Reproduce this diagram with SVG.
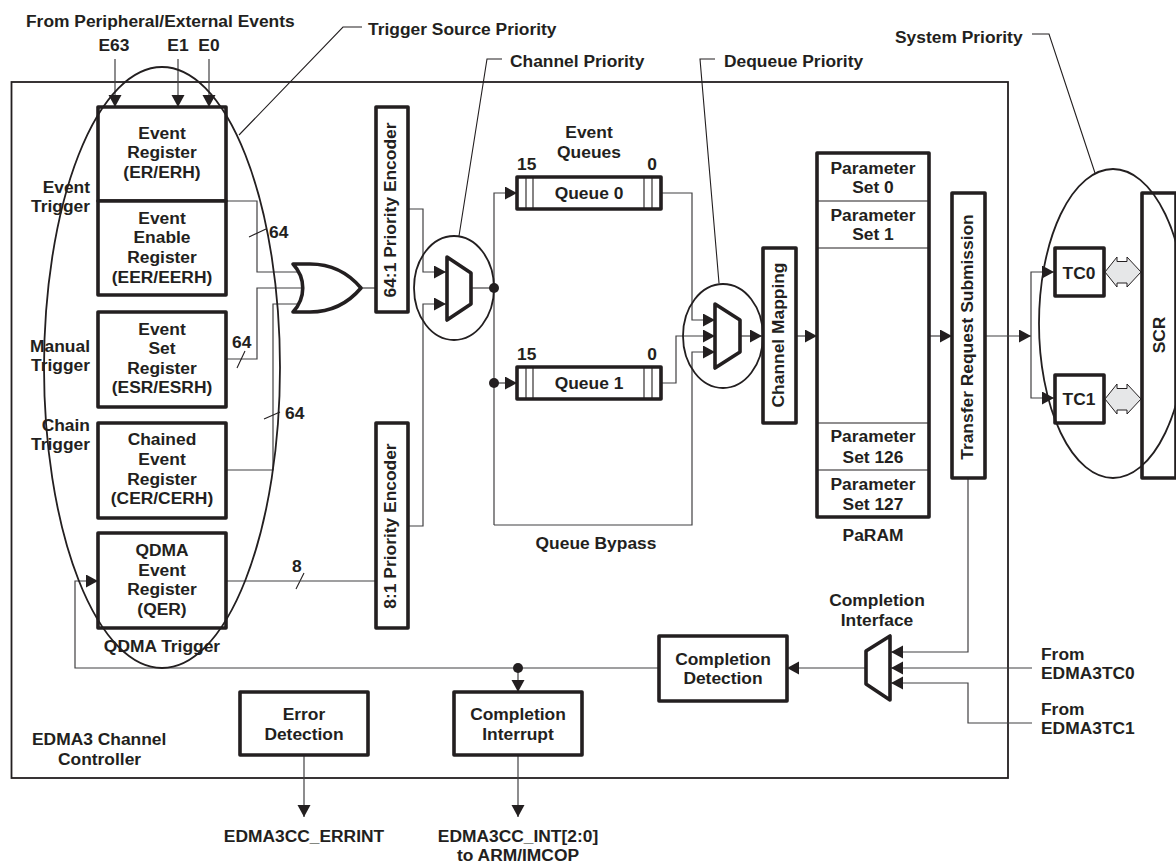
<svg xmlns="http://www.w3.org/2000/svg" width="1176" height="863" viewBox="0 0 1176 863">
<style>
text{font-family:"Liberation Sans",Arial,sans-serif;font-weight:bold;font-size:17.4px;fill:#231f20}
.m{text-anchor:middle}
.e{text-anchor:end}
.b{fill:#fff;stroke:#231f20;stroke-width:3.6;stroke-linejoin:round}
.o{fill:none;stroke:#231f20;stroke-width:1.8}
.w{fill:none;stroke:#231f20;stroke-width:1.1}
.c{fill:none;stroke:#414042;stroke-width:1.2}
.h{fill:#e6e7e8;stroke:#231f20;stroke-width:1}
.d{fill:#231f20}
</style>
<defs>
<marker id="a" markerUnits="userSpaceOnUse" markerWidth="13" markerHeight="14" refX="12" refY="6.5" orient="auto"><path d="M0,0L12,6.500L0,13z" fill="#231f20"/></marker>
</defs>
<rect id="controller" x="11.500" y="82" width="996.500" height="696" fill="none" stroke="#231f20" stroke-width="1.800"/>
<g id="connectors">
<path class="c" marker-end="url(#a)" d="M115,59V107"/>
<path class="c" marker-end="url(#a)" d="M178,59V107"/>
<path class="c" marker-end="url(#a)" d="M209,59V107"/>
<path class="c" d="M226,201H257V272H298"/>
<path class="c" d="M226,359H257V288H302"/>
<path class="c" d="M226,470H273V304H298"/>
<path class="w" d="M249,237L266,229M237,368L245,351M264,419L280,412M296,589L304,573"/>
<path class="c" d="M362,288H376"/>
<path class="c" d="M226,581H375"/>
<path class="c" marker-end="url(#a)" d="M408,209H423V272H446"/>
<path class="c" marker-end="url(#a)" d="M408,526H423V304H446"/>
<path class="c" d="M471,288H494"/>
<path class="c" marker-end="url(#a)" d="M494,525V193H517"/>
<path class="c" marker-end="url(#a)" d="M494,383H517"/>
<path class="c" marker-end="url(#a)" d="M661,193H692V320H715"/>
<path class="c" marker-end="url(#a)" d="M661,383H676V336H715"/>
<path class="c" marker-end="url(#a)" d="M494,525H692V352H715"/>
<path class="c" marker-end="url(#a)" d="M740,336H762"/>
<path class="c" marker-end="url(#a)" d="M796,336H817"/>
<path class="c" marker-end="url(#a)" d="M929,336H952"/>
<path class="c" marker-end="url(#a)" d="M985,336H1031"/>
<path class="c" marker-end="url(#a)" d="M1031,336V272H1054"/>
<path class="c" marker-end="url(#a)" d="M1031,336V398H1054"/>
<path class="c" marker-end="url(#a)" d="M968,478V652H891"/>
<path class="c" marker-end="url(#a)" d="M1032,668H891"/>
<path class="c" marker-end="url(#a)" d="M1032,723H968V683H891"/>
<path class="c" marker-end="url(#a)" d="M866,668H787"/>
<path class="c" marker-end="url(#a)" d="M659,668H75V581H98"/>
<path class="c" marker-end="url(#a)" d="M518,668V692"/>
<path class="c" marker-end="url(#a)" d="M304,755V817"/>
<path class="c" marker-end="url(#a)" d="M518,755V817"/>
<circle class="d" cx="494" cy="288" r="5"/>
<circle class="d" cx="494" cy="383" r="5"/>
<circle class="d" cx="518" cy="668" r="5"/>
<path class="w" d="M239,135L343,27H362"/>
<path class="w" d="M459,236L487,59H502"/>
<path class="w" d="M719,283L700,59H715"/>
<path class="w" d="M1095,173L1049,34H1032"/>
</g>
<g id="event-register"><rect class="b" x="98" y="107" width="128" height="94"/><text class="m" x="162" y="139">Event</text><text class="m" x="162" y="158">Register</text><text class="m" x="162" y="178">(ER/ERH)</text></g>
<g id="event-enable-register"><rect class="b" x="98" y="201" width="128" height="94"/><text class="m" x="162" y="224">Event</text><text class="m" x="162" y="243">Enable</text><text class="m" x="162" y="263">Register</text><text class="m" x="162" y="283">(EER/EERH)</text></g>
<g id="event-set-register"><rect class="b" x="98" y="312" width="128" height="95"/><text class="m" x="162" y="335">Event</text><text class="m" x="162" y="354">Set</text><text class="m" x="162" y="374">Register</text><text class="m" x="162" y="393">(ESR/ESRH)</text></g>
<g id="chained-event-register"><rect class="b" x="98" y="423" width="128" height="95"/><text class="m" x="162" y="445">Chained</text><text class="m" x="162" y="465">Event</text><text class="m" x="162" y="485">Register</text><text class="m" x="162" y="504">(CER/CERH)</text></g>
<g id="qdma-event-register"><rect class="b" x="98" y="533" width="128" height="95"/><text class="m" x="162" y="556">QDMA</text><text class="m" x="162" y="576">Event</text><text class="m" x="162" y="595">Register</text><text class="m" x="162" y="615">(QER)</text></g>
<g id="or-gate"><path class="b" d="M293,264H310C333,264 350,275 361,288C350,301 333,312 310,312H293C306,298 306,278 293,264z"/></g>
<g id="encoder-64"><rect class="b" x="376" y="107" width="32" height="205"/><text class="m" transform="translate(396 210) rotate(-90)">64:1 Priority Encoder</text></g>
<g id="encoder-8"><rect class="b" x="376" y="423" width="32" height="205"/><text class="m" transform="translate(396 526) rotate(-90)">8:1 Priority Encoder</text></g>
<g id="channel-mux"><ellipse class="o" cx="454" cy="288" rx="40" ry="52"/><path class="b" d="M447,257L471,273V304L447,320z"/></g>
<g id="queue-0"><rect class="b" x="517" y="177" width="144" height="32"/><path class="w" d="M526,177V209M533,177V209M644,177V209M652,177V209"/><text class="m" x="589" y="199">Queue 0</text></g>
<g id="queue-1"><rect class="b" x="517" y="367" width="144" height="32"/><path class="w" d="M526,367V399M533,367V399M644,367V399M652,367V399"/><text class="m" x="589" y="389">Queue 1</text></g>
<g id="dequeue-mux"><ellipse class="o" cx="723" cy="336" rx="40" ry="52"/><path class="b" d="M715,304L740,320V352L715,368z"/></g>
<g id="channel-mapping"><rect class="b" x="763" y="248" width="33" height="175"/><text class="m" transform="translate(784 335) rotate(-90)">Channel Mapping</text></g>
<g id="param"><rect class="b" x="817" y="153" width="112" height="364"/><path class="w" d="M817,201H929M817,248H929M817,423H929M817,470H929"/>
<text class="m" x="873" y="174">Parameter</text><text class="m" x="873" y="193">Set 0</text>
<text class="m" x="873" y="221">Parameter</text><text class="m" x="873" y="240">Set 1</text>
<text class="m" x="873" y="442">Parameter</text><text class="m" x="873" y="463">Set 126</text>
<text class="m" x="873" y="490">Parameter</text><text class="m" x="873" y="510">Set 127</text></g>
<g id="transfer-request-submission"><rect class="b" x="952" y="193" width="33" height="285"/><text class="m" transform="translate(973 337) rotate(-90)">Transfer Request Submission</text></g>
<g id="tc0"><rect class="b" x="1055" y="248" width="49" height="48"/><text class="m" x="1079" y="279">TC0</text></g>
<g id="tc1"><rect class="b" x="1055" y="375" width="49" height="48"/><text class="m" x="1079" y="405">TC1</text></g>
<g id="scr"><rect class="b" x="1142" y="193" width="34" height="285"/><text class="m" transform="translate(1165 335) rotate(-90)">SCR</text></g>
<path id="tc0-link" class="h" d="M1105,272L1117,257V261.500H1127V257L1141,272L1127,287V283H1117V287z"/>
<path id="tc1-link" class="h" d="M1105,399L1117,384V388.500H1127V384L1141,399L1127,414V410H1117V414z"/>
<g id="completion-detection"><rect class="b" x="659" y="636" width="128" height="65"/><text class="m" x="723" y="665">Completion</text><text class="m" x="723" y="684">Detection</text></g>
<g id="completion-interface"><path class="b" d="M866,651L890,636V700L866,684z"/><text class="m" x="877" y="606">Completion</text><text class="m" x="877" y="626">Interface</text></g>
<g id="error-detection"><rect class="b" x="240" y="692" width="128" height="63"/><text class="m" x="304" y="720">Error</text><text class="m" x="304" y="740">Detection</text></g>
<g id="completion-interrupt"><rect class="b" x="454" y="692" width="128" height="63"/><text class="m" x="518" y="720">Completion</text><text class="m" x="518" y="740">Interrupt</text></g>
<ellipse id="trigger-ellipse" class="o" cx="162" cy="367.500" rx="118" ry="300.500"/>
<ellipse id="system-ellipse" class="o" cx="1113" cy="323.500" rx="74" ry="154.500"/>
<g id="labels">
<text x="26" y="27">From Peripheral/External Events</text>
<text class="m" x="114" y="51">E63</text><text class="m" x="178" y="51">E1</text><text class="m" x="209" y="51">E0</text>
<text x="368" y="35">Trigger Source Priority</text>
<text x="510" y="67">Channel Priority</text>
<text x="724" y="67">Dequeue Priority</text>
<text x="895" y="43">System Priority</text>
<text class="e" x="90" y="193">Event</text><text class="e" x="90" y="212">Trigger</text>
<text class="e" x="90" y="352">Manual</text><text class="e" x="90" y="371">Trigger</text>
<text class="e" x="90" y="431">Chain</text><text class="e" x="90" y="450">Trigger</text>
<text class="m" x="162" y="652">QDMA Trigger</text>
<text x="269" y="238">64</text><text x="232" y="348">64</text><text x="285" y="419">64</text><text x="292" y="572">8</text>
<text class="m" x="589" y="138">Event</text><text class="m" x="589" y="158">Queues</text>
<text x="517" y="170">15</text><text class="e" x="657" y="170">0</text>
<text x="517" y="360">15</text><text class="e" x="657" y="360">0</text>
<text class="m" x="596" y="549">Queue Bypass</text>
<text class="m" x="873" y="541">PaRAM</text>
<text x="32" y="745">EDMA3 Channel</text><text x="58" y="765">Controller</text>
<text x="1041" y="660">From</text><text x="1041" y="679">EDMA3TC0</text>
<text x="1041" y="715">From</text><text x="1041" y="734">EDMA3TC1</text>
<text class="m" x="304" y="842">EDMA3CC_ERRINT</text>
<text class="m" x="518" y="842">EDMA3CC_INT[2:0]</text><text class="m" x="518" y="861">to ARM/IMCOP</text>
</g>
</svg>
